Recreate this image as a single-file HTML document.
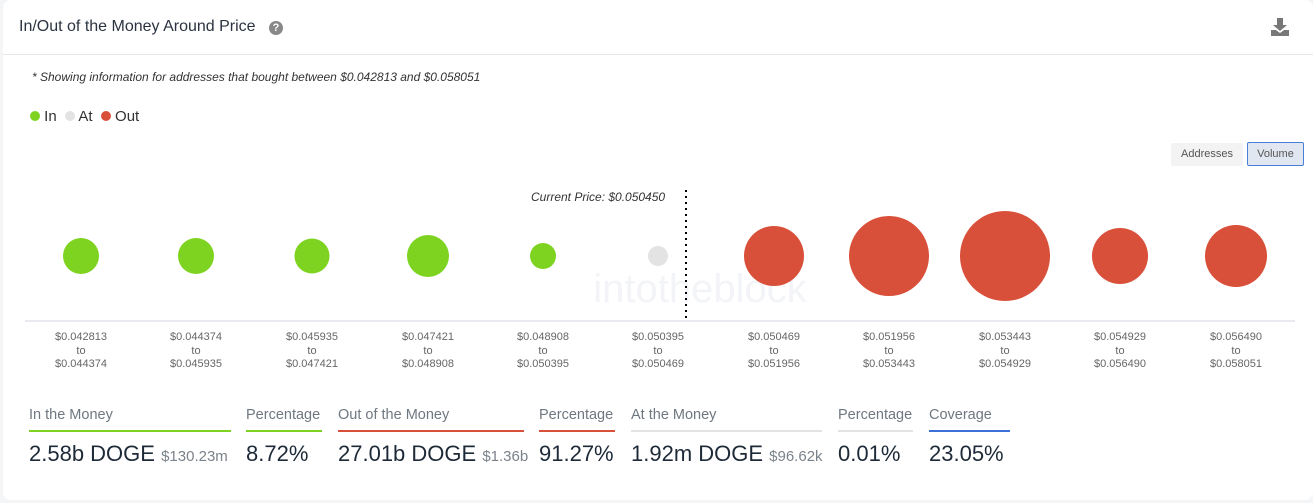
<!DOCTYPE html>
<html><head><meta charset="utf-8"><style>
body{margin:0;width:1313px;height:503px;background:#f4f5f7;font-family:"Liberation Sans",sans-serif;overflow:hidden;position:relative}
.card{position:absolute;left:3px;top:0;width:1310px;height:500px;background:#fff;border-radius:8px}
.a{position:absolute;white-space:nowrap}
.lbl{position:absolute;font-size:11px;color:#666;text-align:center;width:90px;line-height:13.5px}
.sl{position:absolute;top:407px;font-size:14.5px;color:#6f7780}
.bar{position:absolute;top:430px;height:2px}
.sv{position:absolute;top:441px;font-size:22px;color:#1e2a38}
.sv small{font-size:15px;color:#7a828a}
</style></head><body>
<div class="card"></div>
<div class="a" style="left:19px;top:18px;font-size:16px;color:#2b3440">In/Out of the Money Around Price</div>
<div class="a" style="left:269px;top:21px;width:14px;height:14px;border-radius:50%;background:#888;color:#fff;font-size:11px;font-weight:bold;text-align:center;line-height:14px">?</div>
<svg class="a" style="left:1270px;top:18px" width="20" height="18"><path d="M7 0h6v7h4l-7 6-7-6h4z M1 12h5l4 3 4-3h5v6H1z" fill="#777"/></svg>
<div class="a" style="left:3px;top:54px;width:1310px;height:1px;background:#e6e6e6"></div>
<div class="a" style="left:32px;top:70px;font-size:12px;font-style:italic;color:#333">* Showing information for addresses that bought between $0.042813 and $0.058051</div>
<div class="a" style="left:30px;top:108px;font-size:15px;color:#333">
<span style="display:inline-block;width:10px;height:10px;border-radius:50%;background:#7ed321"></span> In&nbsp;
<span style="display:inline-block;width:10px;height:10px;border-radius:50%;background:#e3e3e3"></span> At&nbsp;
<span style="display:inline-block;width:10px;height:10px;border-radius:50%;background:#d9503a"></span> Out</div>
<div class="a" style="left:1171px;top:143px;width:72px;height:23px;background:#f3f3f3;border-radius:2px;font-size:11px;color:#555;text-align:center;line-height:23px">Addresses</div>
<div class="a" style="left:1247px;top:142px;width:55px;height:22px;background:#e1e7f1;border:1px solid #4a7fd9;border-radius:2px;font-size:11px;color:#555;text-align:center;line-height:22px">Volume</div>
<div class="a" style="left:531px;top:190px;font-size:12px;font-style:italic;color:#333">Current Price: $0.050450</div>
<svg class="a" style="left:0;top:0" width="1313" height="330">
<text x="700" y="302" font-family="Liberation Sans" font-size="40" fill="#f3f4f7" text-anchor="middle">intotheblock</text>
<line x1="686" y1="190" x2="686" y2="320" stroke="#000" stroke-width="2" stroke-dasharray="2,4"/>
<line x1="25" y1="321" x2="1295" y2="321" stroke="#d0d6e0"/>
<g fill="#7ed321"><circle cx="81" cy="256" r="18"/><circle cx="196" cy="256" r="18"/><circle cx="312" cy="256" r="17.5"/><circle cx="428" cy="256" r="21"/><circle cx="543" cy="256" r="13"/></g>
<circle cx="658" cy="256" r="10" fill="#e3e3e3"/>
<g fill="#d9503a"><circle cx="774" cy="256" r="30"/><circle cx="889" cy="256" r="40"/><circle cx="1005" cy="256" r="45"/><circle cx="1120" cy="256" r="28"/><circle cx="1236" cy="256" r="31"/></g>
</svg>
<div class="lbl" style="left:36px;top:331px">$0.042813<br>to<br>$0.044374</div>
<div class="lbl" style="left:151px;top:331px">$0.044374<br>to<br>$0.045935</div>
<div class="lbl" style="left:267px;top:331px">$0.045935<br>to<br>$0.047421</div>
<div class="lbl" style="left:383px;top:331px">$0.047421<br>to<br>$0.048908</div>
<div class="lbl" style="left:498px;top:331px">$0.048908<br>to<br>$0.050395</div>
<div class="lbl" style="left:613px;top:331px">$0.050395<br>to<br>$0.050469</div>
<div class="lbl" style="left:729px;top:331px">$0.050469<br>to<br>$0.051956</div>
<div class="lbl" style="left:844px;top:331px">$0.051956<br>to<br>$0.053443</div>
<div class="lbl" style="left:960px;top:331px">$0.053443<br>to<br>$0.054929</div>
<div class="lbl" style="left:1075px;top:331px">$0.054929<br>to<br>$0.056490</div>
<div class="lbl" style="left:1191px;top:331px">$0.056490<br>to<br>$0.058051</div>
<div class="sl" style="left:29px">In the Money</div><div class="bar" style="left:29px;width:202px;background:#7ed321"></div>
<div class="sv" style="left:29px">2.58b DOGE <small>$130.23m</small></div>
<div class="sl" style="left:246px">Percentage</div><div class="bar" style="left:246px;width:76px;background:#7ed321"></div>
<div class="sv" style="left:246px">8.72%</div>
<div class="sl" style="left:338px">Out of the Money</div><div class="bar" style="left:338px;width:186px;background:#d9503a"></div>
<div class="sv" style="left:338px">27.01b DOGE <small>$1.36b</small></div>
<div class="sl" style="left:539px">Percentage</div><div class="bar" style="left:539px;width:76px;background:#d9503a"></div>
<div class="sv" style="left:539px">91.27%</div>
<div class="sl" style="left:631px">At the Money</div><div class="bar" style="left:631px;width:191px;background:#e3e3e3"></div>
<div class="sv" style="left:631px">1.92m DOGE <small>$96.62k</small></div>
<div class="sl" style="left:838px">Percentage</div><div class="bar" style="left:838px;width:75px;background:#e3e3e3"></div>
<div class="sv" style="left:838px">0.01%</div>
<div class="sl" style="left:929px">Coverage</div><div class="bar" style="left:929px;width:81px;background:#3d6fd9"></div>
<div class="sv" style="left:929px">23.05%</div>
</body></html>
